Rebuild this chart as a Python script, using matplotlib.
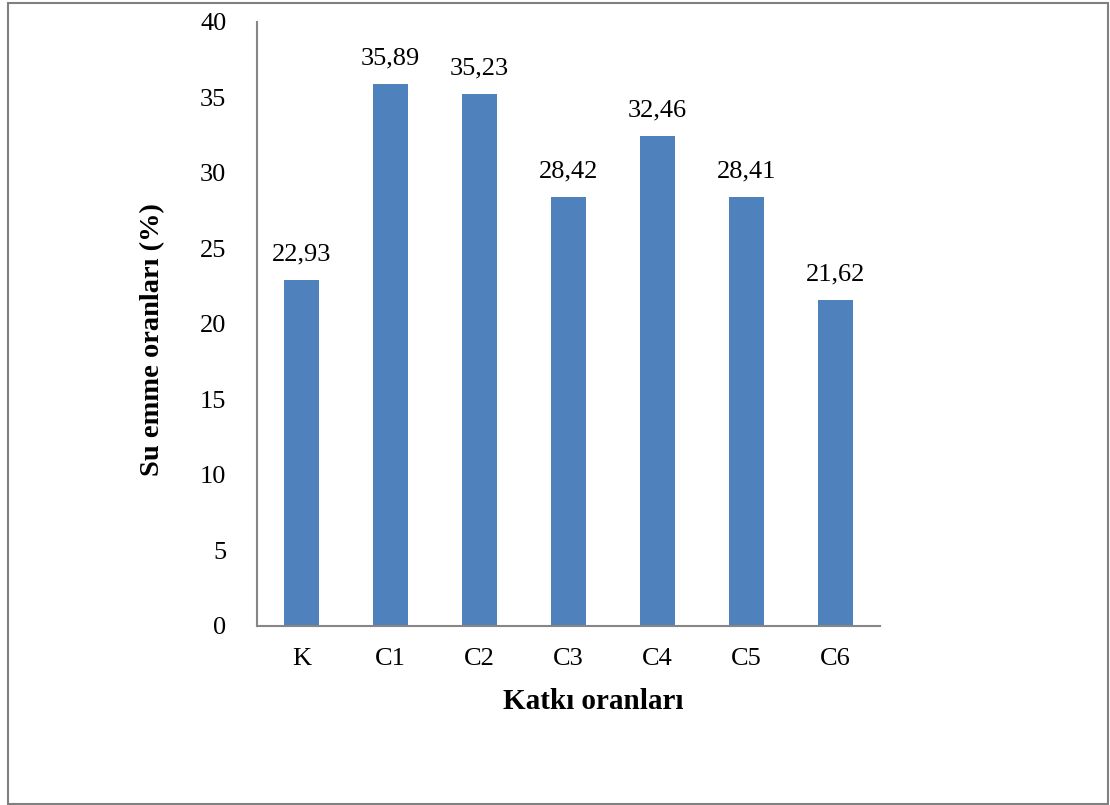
import matplotlib.pyplot as plt
from matplotlib.patches import Rectangle

# Data
categories = ['K', 'C1', 'C2', 'C3', 'C4', 'C5', 'C6']
values = [22.93, 35.89, 35.23, 28.42, 32.46, 28.41, 21.62]
labels = ['22,93', '35,89', '35,23', '28,42', '32,46', '28,41', '21,62']

plt.rcParams['font.family'] = ['Liberation Serif', 'DejaVu Serif']

fig = plt.figure(figsize=(11.1, 8.05), dpi=100)
ax = fig.add_axes([0.2315, 0.2224, 0.5613, 0.7503])

bars = ax.bar(range(len(categories)), values, width=0.4, color='#4F81BD')
for bar, lab in zip(bars, labels):
    ax.text(bar.get_x() + bar.get_width() / 2, bar.get_height() + 0.95, lab,
            ha='center', va='bottom', fontsize=19)

ax.set_xlim(-0.5, len(categories) - 0.5)
ax.set_ylim(0, 40)
ax.set_yticks(range(0, 41, 5))
ax.set_xticks(range(len(categories)))
ax.set_xticklabels(categories)
ax.tick_params(axis='both', length=0, labelsize=19)
ax.tick_params(axis='y', pad=22)
ax.tick_params(axis='x', pad=16)

for s in ['top', 'right']:
    ax.spines[s].set_visible(False)
for s in ['left', 'bottom']:
    ax.spines[s].set_color('#868686')
    ax.spines[s].set_linewidth(1.5)

ax.set_ylabel('Su emme oranları (%)', fontsize=20.5, fontweight='bold')
ax.yaxis.set_label_coords(-0.148, 0.4735)
ax.set_xlabel('Katkı oranları', fontsize=21, fontweight='bold')
ax.xaxis.set_label_coords(0.539, -0.103)

# outer frame
fig.patches.append(Rectangle((8 / 1110, 1 / 805), 1100 / 1110, 801 / 805,
                             transform=fig.transFigure, fill=False,
                             edgecolor='#808080', linewidth=1.5))

fig.savefig('out.png', dpi=100)
